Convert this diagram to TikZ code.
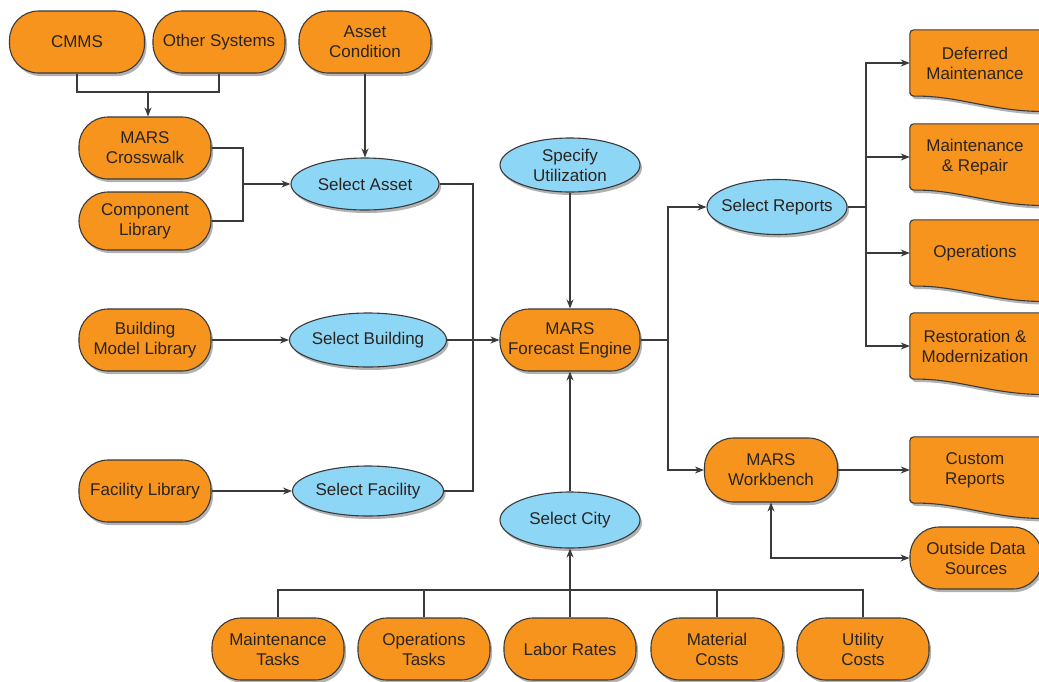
\documentclass[tikz,border=0pt]{standalone}
\usepackage{fontspec}
\setmainfont{Liberation Sans}
\usetikzlibrary{arrows.meta,positioning,shapes.geometric,shadows,calc,backgrounds}

\definecolor{marsorange}{HTML}{F7941D}
\definecolor{marsblue}{HTML}{8ED6F6}
\definecolor{lineclr}{HTML}{3A3A3A}
\definecolor{txtclr}{HTML}{2A2420}

\begin{document}
\begin{tikzpicture}[x=1pt, y=-1pt,
  font=\fontsize{17}{20}\selectfont, text=txtclr,
  softshadow/.style={drop shadow={shadow xshift=2pt, shadow yshift=-3pt,
    fill=black, opacity=0.3}},
  source/.style={rectangle, rounded corners=29pt, draw=lineclr, line width=1.1pt,
    fill=marsorange, minimum width=132, minimum height=62, inner sep=0pt,
    align=center, softshadow},
  choice/.style={ellipse, draw=lineclr, line width=1.1pt, fill=marsblue,
    minimum width=140, minimum height=54, inner xsep=-8pt, inner ysep=0pt,
    align=center, softshadow},
  report/.style={rectangle, minimum width=130, minimum height=66,
    inner sep=0pt, align=center},
  reportbody/.style={draw=lineclr, line width=1.1pt, fill=marsorange,
    rounded corners=4pt, softshadow},
  link/.style={draw=lineclr, line width=1.1pt},
  flow/.style={link, -{Stealth[length=9pt, width=7pt]}}
]
  \useasboundingbox (0,0) rectangle (1039,681);

  % === Inputs (left) ===
  \node[source, minimum width=135] (cmms) at (77,42) {CMMS};
  \node[source] (other) at (219,42) {Other Systems};
  \node[source] (acond) at (365,42) {Asset\\Condition};
  \node[source] (xwalk) at (145,148) {MARS\\Crosswalk};
  \node[source, minimum height=58] (complib) at (145,221) {Component\\Library};
  \node[source] (bml) at (145,340) {Building\\Model Library};
  \node[source] (faclib) at (145,491) {Facility Library};

  % === Selections ===
  \node[choice, minimum width=148, minimum height=52] (sasset) at (365,184) {Select Asset};
  \node[choice, minimum width=157] (sbuild) at (368,340) {Select Building};
  \node[choice, minimum width=151, minimum height=50] (sfac) at (368,491) {Select Facility};
  \node[choice] (sutil) at (570,165) {Specify\\Utilization};
  \node[choice, minimum height=56] (scity) at (570,520) {Select City};
  \node[choice, minimum height=55] (sreps) at (777,207) {Select Reports};

  % === Engine and workbench ===
  \node[source, minimum width=140] (engine) at (570,340) {MARS\\Forecast Engine};
  \node[source, minimum width=133, minimum height=64] (wbench) at (771,470) {MARS\\Workbench};
  \node[source] (outside) at (976,558) {Outside Data\\Sources};

  % === Reports ===
  \node[report] (defm) at (975,63) {Deferred\\Maintenance};
  \node[report] (mrep) at (975,157) {Maintenance\\\& Repair};
  \node[report] (oper) at (975,253) {Operations};
  \node[report] (rest) at (975,346) {Restoration \&\\Modernization};
  \node[report] (cust) at (975,470) {Custom\\Reports};

  \begin{scope}[on background layer]
    \fill[white] (0,0) rectangle (1039,681);
    \foreach \r in {defm,mrep,oper,rest,cust}
      \path[reportbody] (\r.south west) -- (\r.north west)
        -- ($(\r.north east)+(15,0)$) -- ($(\r.south east)+(15,15)$)
        .. controls ($(\r.south east)+(-45,17)$) and ($(\r.south west)+(50,-1)$)
        .. (\r.south west) -- cycle;
  \end{scope}

  % === Cost data (bottom) ===
  \node[source] (mtask) at (278,649) {Maintenance\\Tasks};
  \node[source] (otask) at (424,649) {Operations\\Tasks};
  \node[source] (lrate) at (570,649) {Labor Rates};
  \node[source] (mcost) at (717,649) {Material\\Costs};
  \node[source] (ucost) at (863,649) {Utility\\Costs};

  % Junctions
  \coordinate (topjoin) at (148,92);
  \coordinate (cjoin) at (243,184);
  \coordinate (ljoin) at (473,340);
  \coordinate (rjoin) at (668,340);
  \coordinate (djoin) at (866,207);
  \coordinate (bjoin) at (570,590);

  % Connectors
  \draw[link] (cmms.south) |- (topjoin) -| (other.south);
  \draw[flow] (topjoin) -- (topjoin |- xwalk.north);
  \draw[link] (xwalk.east) -| (cjoin) |- (complib.east);
  \draw[flow] (cjoin) -- (sasset.west);
  \draw[flow] (acond.south) -- (sasset.north);
  \draw[flow] (bml.east) -- (sbuild.west);
  \draw[flow] (faclib.east) -- (sfac.west);
  \draw[link] (sasset.east) -| (ljoin) |- (sfac.east);
  \draw[flow] (sbuild.east) -- (engine.west);
  \draw[flow] (sutil.south) -- (engine.north);
  \draw[flow] (scity.north) -- (engine.south);
  \draw[link] (engine.east) -- (rjoin);
  \draw[flow] (rjoin) |- (sreps.west);
  \draw[flow] (rjoin) |- (wbench.west);
  \draw[link] (sreps.east) -- (djoin);
  \foreach \r in {defm,mrep,oper,rest}
    \draw[flow] (djoin) |- (\r.west);
  \draw[flow] (wbench.east) -- (cust.west);
  \draw[link, {Stealth[length=9pt, width=7pt]}-{Stealth[length=9pt, width=7pt]}]
    (wbench.south) |- (outside.west);
  \draw[link] (mtask.north) |- (bjoin) -| (ucost.north);
  \foreach \n in {otask,mcost}
    \draw[link] (\n.north) -- (\n.north |- bjoin);
  \draw[flow] (lrate.north) -- (scity.south);
\end{tikzpicture}
\end{document}
